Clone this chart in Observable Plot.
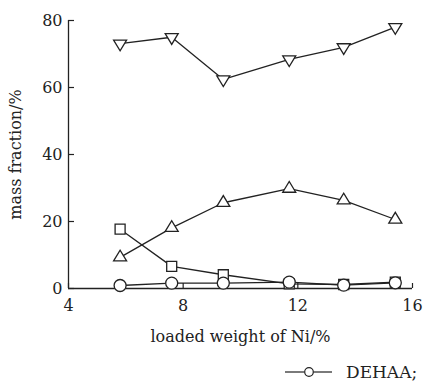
<!DOCTYPE html>
<html><head><meta charset="utf-8">
<script src="https://cdn.jsdelivr.net/npm/d3@7"></script>
<script src="https://cdn.jsdelivr.net/npm/@observablehq/plot@0.6"></script>
<style>
body{margin:0;background:#fff;}
#wrap{position:relative;width:423px;height:384px;font-family:"DejaVu Serif",serif;}
#wrap > svg{display:block;}
#legend{position:absolute;left:0;top:350px;}
</style></head><body><div id="wrap"></div>
<script>
// loaded weight of Ni (%)
const nickel = [5.8, 7.6, 9.4, 11.7, 13.6, 15.4];
// mass fraction (%) per product
const seriesDown = [73.1, 75.0, 62.4, 68.4, 72.0, 78.0];
const seriesUp = [9.3, 18.1, 25.6, 29.8, 26.3, 20.6];
const seriesSquare = [17.7, 6.6, 4.1, 1.4, 1.2, 1.9];
const seriesDEHAA = [0.9, 1.6, 1.6, 1.9, 1.0, 1.7];
const xTicks = [4, 8, 12, 16];
const yTicks = [0, 20, 40, 60, 80];
const legendLabel = "DEHAA;";

const ink = "#222";
const rows = vals => nickel.map((x, i) => ({x, v: vals[i]}));

const triDown = {draw(ctx, size){ const r = Math.sqrt(size/Math.PI), h = 1.65*r;
  ctx.moveTo(-r, -h/3); ctx.lineTo(r, -h/3); ctx.lineTo(0, 2*h/3); ctx.closePath(); }};
const triUp = {draw(ctx, size){ const r = Math.sqrt(size/Math.PI), h = 1.65*r;
  ctx.moveTo(-r, h/3); ctx.lineTo(r, h/3); ctx.lineTo(0, -2*h/3); ctx.closePath(); }};
const sq = {draw(ctx, size){ const r = Math.sqrt(size/Math.PI);
  ctx.rect(-r, -r, 2*r, 2*r); }};

const series = [
  {vals: seriesSquare, symbol: sq, r: 5},
  {vals: seriesDEHAA, symbol: "circle", r: 6},
  {vals: seriesUp, symbol: triUp, r: 6.5},
  {vals: seriesDown, symbol: triDown, r: 6.5}
];

const marks = [
  Plot.ruleY([0], {stroke: ink, strokeWidth: 1.3}),
  Plot.ruleX([4], {stroke: ink, strokeWidth: 1.3}),
  Plot.axisX({ticks: xTicks, tickSize: -5, tickPadding: 16, strokeWidth: 1.2, stroke: ink,
    label: "loaded weight of Ni/%", labelAnchor: "center", labelOffset: 53, labelArrow: "none"}),
  Plot.axisY({ticks: yTicks, tickSize: -6, tickPadding: 12, strokeWidth: 1.2, stroke: ink,
    label: "mass fraction/%", labelAnchor: "center", labelOffset: 59, labelArrow: "none"})
];
for (const s of series) {
  marks.push(Plot.line(rows(s.vals), {x: "x", y: "v", stroke: ink, strokeWidth: 1.3}));
}
for (const s of series) {
  marks.push(Plot.dot(rows(s.vals), {x: "x", y: "v", symbol: s.symbol, r: s.r,
    stroke: ink, strokeWidth: 1.3, fill: "white"}));
}

const chart = Plot.plot({
  width: 423, height: 350,
  marginLeft: 68, marginRight: 11, marginTop: 20, marginBottom: 62,
  style: {fontFamily: '"DejaVu Serif", serif', fontSize: "16px", color: ink, background: "transparent"},
  x: {domain: [4, 16]},
  y: {domain: [0, 80]},
  marks
});
const wrap = document.getElementById("wrap");
wrap.appendChild(chart);

const ns = "http://www.w3.org/2000/svg";
const leg = document.createElementNS(ns, "svg");
leg.setAttribute("id", "legend");
leg.setAttribute("width", 423); leg.setAttribute("height", 34);
leg.innerHTML = `<g stroke="${ink}" stroke-width="1.2" fill="white">
<line x1="285" x2="304.5" y1="22" y2="22"/><circle cx="309" cy="22" r="4.3"/><line x1="313.5" x2="332" y1="22" y2="22"/></g>
<text x="346" y="28" font-family="DejaVu Serif, serif" font-size="17" fill="${ink}">${legendLabel}</text>`;
wrap.appendChild(leg);
</script></body></html>
